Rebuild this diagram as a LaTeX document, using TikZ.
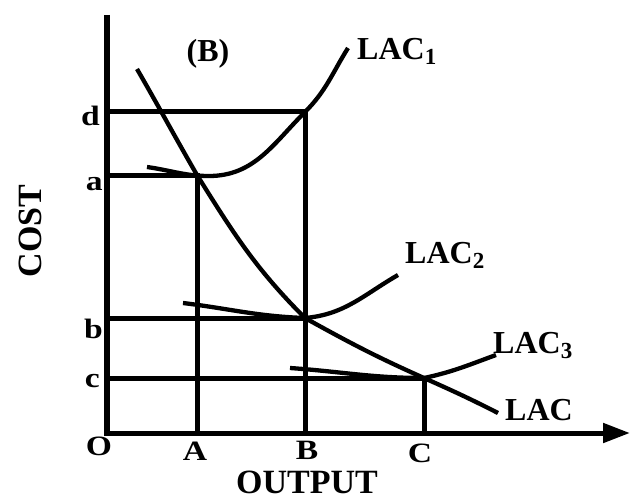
\documentclass[tikz,border=0pt]{standalone}
\usepackage{fontspec}
\setmainfont{Liberation Serif}
\newfontfamily\tickfont[FakeStretch=1.2]{Liberation Serif}
\usetikzlibrary{arrows.meta}
\tikzset{
  % Axes, filled head on the output axis
  axis/.style={line width=5pt,-{Triangle[length=27pt,width=19pt]}},
  % Drop lines to the axes
  guide/.style={line width=5pt},
  % Cost curves
  curve/.style={line width=4.3pt},
  % Letters at the axes
  tick/.style={font=\tickfont\bfseries\fontsize{28}{28}\selectfont,
    inner sep=0pt},
  % Curve names
  lbl/.style={font=\bfseries\fontsize{32}{32}\selectfont,
    inner sep=0pt,anchor=base west},
  % Axis titles
  ttl/.style={font=\bfseries\fontsize{34}{34}\selectfont,inner sep=0pt},
}
\newcommand{\lacsub}[1]{LAC\raisebox{-5pt}{\fontsize{23}{23}\selectfont#1}}

\begin{document}
\begin{tikzpicture}[x=1pt,y=1pt]
  \useasboundingbox (-107,-66) rectangle (527,433);

  % Axes
  \coordinate (O) at (0,0);
  \coordinate (top) at (0,418);
  \coordinate (right) at (523,0);
  \draw[axis] (top) -- (O) -- (right);

  % Tangency points
  \coordinate (Pd) at (198,321);
  \coordinate (Pa) at (90,258);
  \coordinate (Pb) at (198,115);
  \coordinate (Pc) at (317,55);

  % Cost and output levels
  \coordinate (d) at (0,321);
  \coordinate (a) at (0,258);
  \coordinate (b) at (0,115);
  \coordinate (c) at (0,55);
  \coordinate (A) at (90,0);
  \coordinate (B) at (198,0);
  \coordinate (C) at (317,0);

  \draw[guide] (d) -- (Pd) -- (B);
  \draw[guide] (a) -- (Pa) -- (A);
  \draw[guide] (b) -- (Pb);
  \draw[guide] (c) -- (Pc) -- (C);

  % Short-run curves
  \draw[curve] (40,266) to[out=-8,in=180] (102,257)
    to[out=0,in=-135] (Pd) to[out=45,in=-122] (241,385);
  \draw[curve] (76,130) to[out=-7,in=178] (Pb)
    to[out=5,in=-150] (291,158);
  \draw[curve] (183,65) to[out=-4,in=180] (Pc)
    to[out=12,in=-160] (389,78);

  % Envelope
  \draw[curve] (30,364) to[out=-60,in=120] (Pa)
    to[out=-58,in=135] (Pb) to[out=-29,in=156] (Pc)
    to[out=-24,in=153] (391,20);

  % Labels
  \node[tick,anchor=base east] (ld) at (-7,308) {d};
  \node[tick,anchor=base east] (la) at (-4,243) {a};
  \node[tick,anchor=base east] (lb) at (-4,95) {b};
  \node[tick,anchor=base east] (lc) at (-7,46) {c};
  \node[tick,anchor=base] (lO) at (-8,-22) {O};
  \node[tick,anchor=base] (lA) at (88,-27) {A};
  \node[tick,anchor=base] (lB) at (200,-26) {B};
  \node[tick,anchor=base] (lC) at (313,-29) {C};

  \node[lbl] (n1) at (250,373) {\lacsub{1}};
  \node[lbl] (n2) at (298,170) {\lacsub{2}};
  \node[lbl] (n3) at (386,80) {\lacsub{3}};
  \node[lbl] (n0) at (398,13) {LAC};
  \node[lbl,anchor=center] (tag) at (101,379) {(B)};

  \node[ttl,anchor=base] (xlab) at (200,-60) {OUTPUT};
  \node[ttl,rotate=90] (ylab) at (-77,202) {COST};
\end{tikzpicture}
\end{document}
